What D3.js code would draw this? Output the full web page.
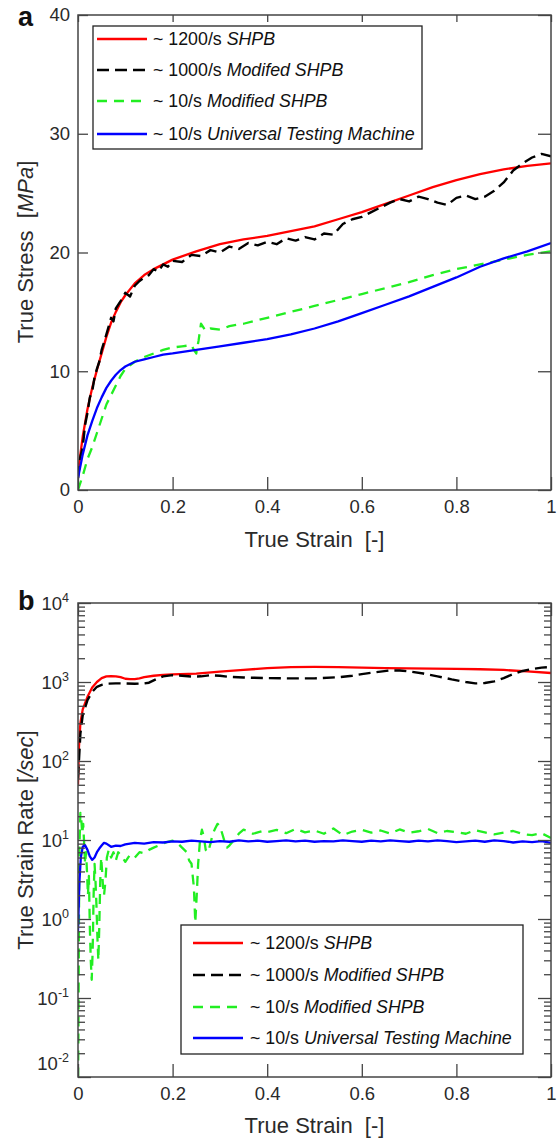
<!DOCTYPE html>
<html>
<head>
<meta charset="utf-8">
<script src="https://cdn.jsdelivr.net/npm/d3@7"></script>
<style>
  body { margin: 0; background: #fff; }
  svg { display: block; font-family: "Liberation Sans", Arial, Helvetica, sans-serif; }
</style>
</head>
<body>
<div id="chart"></div>
<script>
// ---------- panel a : true stress vs true strain ----------
const redStrainA = [0,0.01,0.02,0.03,0.04,0.05,0.06,0.07,0.08,0.09,0.1,0.12,0.14,0.16,0.18,0.2,0.25,0.3,0.35,0.4,0.45,0.5,0.55,0.6,0.65,0.7,0.75,0.8,0.85,0.9,0.95,1]
const redStressA = [1.5,4.5,6.8,8.6,10.1,11.5,12.9,14.1,15.0,15.8,16.4,17.4,18.1,18.6,19.0,19.4,20.1,20.7,21.1,21.4,21.8,22.2,22.8,23.4,24.1,24.8,25.5,26.1,26.6,27.0,27.3,27.5]

const blackStrainA = [0,0.005,0.01,0.015,0.02,0.025,0.03,0.035,0.04,0.045,
  0.05,0.06,0.07,0.075,0.08,0.09,0.1,0.11,0.12,0.13,
  0.14,0.15,0.16,0.17,0.18,0.19,0.2,0.22,0.24,0.26,
  0.28,0.3,0.32,0.34,0.36,0.38,0.4,0.42,0.44,0.46,
  0.48,0.5,0.52,0.54,0.56,0.58,0.6,0.62,0.64,0.66,
  0.68,0.7,0.72,0.74,0.76,0.78,0.8,0.82,0.84,0.86,
  0.88,0.9,0.92,0.94,0.96,0.98,1]
const blackStressA = [1.0,2.8,3.6,5.5,6.5,7.8,8.3,9.5,10.2,10.8,
  11.8,13.1,14.5,14.2,15.3,15.9,16.6,16.3,17.2,17.6,
  17.9,18.1,18.6,18.4,19.0,18.8,19.3,19.2,19.8,19.7,
  20.2,20.0,20.5,20.3,20.8,20.6,20.9,20.7,21.2,21.0,
  21.3,21.1,21.6,21.5,22.4,22.8,23.0,23.4,23.8,24.2,
  24.5,24.3,24.7,24.5,24.2,24.0,24.6,24.8,24.5,24.7,
  25.2,25.9,26.9,27.5,28.0,28.3,28.1]

const greenStrainA = [0,0.01,0.02,0.03,0.04,0.05,0.06,0.07,0.08,0.09,
  0.1,0.12,0.14,0.16,0.18,0.2,0.22,0.24,0.245,0.25,
  0.255,0.26,0.27,0.28,0.3,0.32,0.35,0.4,0.45,0.5,
  0.55,0.6,0.65,0.7,0.75,0.8,0.85,0.9,0.95,1]
const greenStressA = [0,1.2,2.6,3.6,4.8,6.0,7.2,8.0,8.8,9.6,
  10.2,10.8,11.2,11.5,11.8,12.0,12.1,12.2,11.8,11.5,
  12.6,14.0,13.4,13.6,13.5,13.8,14.0,14.5,15.0,15.5,
  16.0,16.5,17.0,17.5,18.1,18.6,19.0,19.4,19.8,20.1]

const blueStrainA = redStrainA
const blueStressA = [1.0,3.0,4.6,5.8,6.9,7.8,8.6,9.2,9.7,10.1,10.4,10.8,11.0,11.2,11.4,11.5,11.8,12.1,12.4,12.7,13.1,13.6,14.2,14.9,15.6,16.3,17.1,17.9,18.8,19.5,20.1,20.8]

// ---------- panel b : true strain rate vs true strain ----------
const redStrainB = [0,0.002,0.005,0.01,0.02,0.03,0.04,0.05,0.06,0.07,
  0.08,0.09,0.1,0.11,0.12,0.13,0.14,0.16,0.18,0.2,
  0.25,0.3,0.35,0.4,0.45,0.5,0.55,0.6,0.65,0.7,
  0.75,0.8,0.85,0.9,0.95,1]
const redRateB = [50,150,300,450,650,850,1000,1120,1180,1190,
  1180,1150,1100,1090,1090,1110,1150,1200,1230,1250,
  1280,1350,1420,1500,1540,1550,1540,1520,1500,1490,
  1480,1470,1450,1420,1360,1300]

const blackStrainB = [0,0.002,0.005,0.01,0.02,0.03,0.04,0.05,0.06,0.08,
  0.1,0.12,0.14,0.15,0.16,0.17,0.18,0.2,0.22,0.24,
  0.26,0.28,0.3,0.32,0.35,0.4,0.45,0.5,0.55,0.58,
  0.6,0.63,0.66,0.68,0.7,0.73,0.76,0.79,0.82,0.84,
  0.86,0.88,0.9,0.92,0.94,0.96,0.98,1]
const blackRateB = [60,100,220,380,590,750,870,920,950,960,
  960,950,960,980,1050,1120,1180,1220,1200,1170,
  1180,1220,1200,1160,1140,1120,1110,1110,1150,1200,
  1260,1330,1400,1400,1360,1280,1180,1080,1000,960,
  970,1020,1120,1260,1380,1460,1520,1550]

const greenStrainB = [0,0.001,0.002,0.003,0.005,0.007,0.009,0.011,0.013,0.015,
  0.017,0.019,0.021,0.023,0.025,0.027,0.029,0.031,0.033,0.035,
  0.037,0.039,0.041,0.043,0.045,0.047,0.049,0.051,0.053,0.055,
  0.058,0.061,0.065,0.07,0.075,0.08,0.085,0.09,0.1,0.11,
  0.12,0.13,0.14,0.15,0.16,0.17,0.18,0.19,0.2,0.21,
  0.22,0.23,0.235,0.24,0.245,0.248,0.251,0.254,0.258,0.262,
  0.266,0.27,0.275,0.28,0.285,0.29,0.295,0.3,0.305,0.31,
  0.315,0.32,0.33,0.34,0.35,0.36,0.37,0.38,0.39,0.4,
  0.42,0.44,0.46,0.48,0.5,0.52,0.54,0.56,0.58,0.6,
  0.62,0.64,0.66,0.68,0.7,0.72,0.74,0.76,0.78,0.8,
  0.82,0.84,0.86,0.88,0.9,0.92,0.94,0.96,0.98,1]
const greenRateB = [0.006,0.05,1,8,22,18,12,16,9,5,
  7,4,2,3.5,0.8,0.3,0.17,0.4,2,5,
  3,1.5,0.6,0.3,0.8,3,6,4,2.5,2,
  3,6,7.5,6,7,5.5,7,6.5,5.3,6.5,
  6,7,6.8,7.5,8,8.5,9,9.5,9.8,9.2,
  8,7,5.5,5,2.5,0.9,2,5,10,13.5,
  11,7.5,7,9,12,14,16,15,12,9.5,
  8,8.5,10,12,13.5,13,12,12.5,13,12.6,
  13.4,12.2,13.8,12.5,13.2,12.0,14.0,11.5,12.8,13.5,
  12.4,13.2,12.1,13.6,12.4,12.9,13.8,12.2,13.0,12.6,
  12.0,13.3,12.5,11.8,12.4,13.0,11.9,11.5,12.2,10.6]

const blueStrainB = [0,0.003,0.006,0.01,0.015,0.02,0.025,0.03,0.035,0.04,
  0.045,0.05,0.055,0.06,0.07,0.08,0.09,0.1,0.12,0.14,
  0.16,0.18,0.2,0.22,0.24,0.26,0.28,0.3,0.32,0.34,
  0.36,0.38,0.4,0.42,0.44,0.46,0.48,0.5,0.52,0.54,
  0.56,0.58,0.6,0.62,0.64,0.66,0.68,0.7,0.72,0.74,
  0.76,0.78,0.8,0.82,0.84,0.86,0.88,0.9,0.92,0.94,
  0.96,0.98,1]
const blueRateB = [0.7,3,6,8.2,8.6,7.5,6.2,5.6,6.0,7.0,
  7.8,8.5,9.2,9.0,8.2,8.5,8.4,8.8,9.2,9.0,
  9.4,9.3,9.6,9.5,9.8,9.6,9.4,9.7,9.5,9.9,
  9.6,9.8,9.5,9.7,9.9,9.6,9.8,9.5,9.7,9.6,
  9.9,9.7,9.5,9.8,9.6,9.9,9.7,9.5,9.8,9.6,
  9.9,9.7,9.4,9.6,9.8,9.5,9.9,9.7,9.3,9.6,
  9.4,9.7,9.2]

// ticks and legend text
const strainTicks = [0, 0.2, 0.4, 0.6, 0.8, 1]
const strainTickLabels = ["0", "0.2", "0.4", "0.6", "0.8", "1"]
const stressTicks = [0, 10, 20, 30, 40]
const rateExponents = [-2, -1, 0, 1, 2, 3, 4]
const legendRatesA = ["~ 1200/s ", "~ 1000/s ", "~ 10/s ", "~ 10/s "]
const legendMethodsA = ["SHPB", "Modifed SHPB", "Modified SHPB", "Universal Testing Machine"]
const legendMethodsB = ["SHPB", "Modified SHPB", "Modified SHPB", "Universal Testing Machine"]

// styles (order: red, black, green, blue)
const colors = ["#ff0000", "#000000", "#22ee22", "#0000ff"]
const dashes = [null, "12,6", "10,7", null]
const widths = [2.3, 2.4, 2.3, 2.3]

const frameColor = "#444"
const textColor = "#2a2a2a"

const svg = d3.select("#chart").append("svg")
  .attr("width", 558)
  .attr("height", 1138)

const W = 473
const defs = svg.append("defs")

function styleAxis(g, fontSize) {
  g.attr("font-family", null).attr("font-size", null)
  g.select(".domain").remove()
  g.selectAll(".tick line").attr("stroke", frameColor).attr("stroke-width", 1.3)
  g.selectAll("text").attr("fill", textColor).attr("font-size", fontSize)
}

function drawLines(g, x, y, series, clipId) {
  const line = d3.line().x(d => x(d[0])).y(d => y(d[1]))
  const lg = g.append("g").attr("clip-path", `url(#${clipId})`)
  series.forEach((s, i) => {
    lg.append("path")
      .datum(d3.zip(s[0], s[1]))
      .attr("fill", "none")
      .attr("stroke", colors[i])
      .attr("stroke-width", widths[i])
      .attr("stroke-dasharray", dashes[i])
      .attr("stroke-linejoin", "round")
      .attr("d", line)
  })
}

function drawLegend(g, box, rows, lineX, textX, methods) {
  g.append("rect")
    .attr("x", box.x).attr("y", box.y)
    .attr("width", box.w).attr("height", box.h)
    .attr("fill", "#fff").attr("stroke", "#222").attr("stroke-width", 1.3)
  rows.forEach((ry, i) => {
    g.append("line")
      .attr("x1", lineX[0]).attr("x2", lineX[1])
      .attr("y1", ry).attr("y2", ry)
      .attr("stroke", colors[i])
      .attr("stroke-width", widths[i])
      .attr("stroke-dasharray", dashes[i])
    const t = g.append("text")
      .attr("x", textX).attr("y", ry).attr("dy", "0.36em")
      .attr("font-size", 17.8).attr("fill", "#111")
    t.append("tspan").text(legendRatesA[i])
    t.append("tspan").attr("font-style", "italic").text(methods[i])
  })
}

// ================= panel a =================
const topA = 15, HA = 475
const xA = d3.scaleLinear().domain([0, 1]).range([0, W])
const yA = d3.scaleLinear().domain([0, 40]).range([HA, 0])
const gA = svg.append("g").attr("transform", `translate(78,${topA})`)

defs.append("clipPath").attr("id", "clipA")
  .append("rect").attr("width", W).attr("height", HA)

drawLines(gA, xA, yA, [
  [redStrainA, redStressA],
  [blackStrainA, blackStressA],
  [greenStrainA, greenStressA],
  [blueStrainA, blueStressA]
], "clipA")

gA.append("g").attr("transform", `translate(0,${HA})`)
  .call(d3.axisBottom(xA).tickValues(strainTicks).tickSize(-13).tickPadding(10)
    .tickFormat((d, i) => strainTickLabels[i]))
  .call(g => styleAxis(g, 18.5))
gA.append("g")
  .call(d3.axisTop(xA).tickValues(strainTicks).tickSize(-7).tickFormat(""))
  .call(g => styleAxis(g, 18.5))
gA.append("g")
  .call(d3.axisLeft(yA).tickValues(stressTicks).tickSize(-10).tickPadding(8))
  .call(g => styleAxis(g, 18.5))
gA.append("g").attr("transform", `translate(${W},0)`)
  .call(d3.axisRight(yA).tickValues(stressTicks).tickSize(-13).tickFormat(""))
  .call(g => styleAxis(g, 18.5))

gA.append("rect").attr("width", W).attr("height", HA)
  .attr("fill", "none").attr("stroke", frameColor).attr("stroke-width", 1.5)

drawLegend(svg, { x: 93, y: 26, w: 329, h: 123 }, [39, 70, 101, 134], [97, 147], 153, legendMethodsA)

svg.append("text").attr("x", 314.5).attr("y", 547).attr("text-anchor", "middle")
  .attr("font-size", 22).attr("fill", textColor).attr("xml:space", "preserve")
  .text("True Strain  [-]")
const ytA = svg.append("text").attr("transform", "translate(33,252) rotate(-90)")
  .attr("text-anchor", "middle").attr("font-size", 22).attr("fill", textColor)
  .attr("xml:space", "preserve")
ytA.append("tspan").text("True Stress  [")
ytA.append("tspan").attr("font-style", "italic").text("MPa")
ytA.append("tspan").text("]")

svg.append("text").attr("x", 18).attr("y", 26)
  .attr("font-size", 27).attr("font-weight", "bold").attr("fill", "#111").text("a")

// ================= panel b =================
const topB = 603, HB = 474
const xB = d3.scaleLinear().domain([0, 1]).range([0, W])
const yB = d3.scaleLog().domain([1e-2, 1e4]).range([HB, 0])
const gB = svg.append("g").attr("transform", `translate(78,${topB})`)

defs.append("clipPath").attr("id", "clipB")
  .append("rect").attr("width", W).attr("height", HB)

drawLines(gB, xB, yB, [
  [redStrainB, redRateB],
  [blackStrainB, blackRateB],
  [greenStrainB, greenRateB],
  [blueStrainB, blueRateB]
], "clipB")

const majors = rateExponents.map(e => Math.pow(10, e))
const minors = []
rateExponents.slice(0, -1).forEach(e => {
  for (let k = 2; k <= 9; k++) minors.push(k * Math.pow(10, e))
})

gB.append("g").attr("transform", `translate(0,${HB})`)
  .call(d3.axisBottom(xB).tickValues(strainTicks).tickSize(-13).tickPadding(10)
    .tickFormat((d, i) => strainTickLabels[i]))
  .call(g => styleAxis(g, 18.5))
gB.append("g")
  .call(d3.axisTop(xB).tickValues(strainTicks).tickSize(-13).tickFormat(""))
  .call(g => styleAxis(g, 18.5))
gB.append("g")
  .call(d3.axisLeft(yB).tickValues(majors).tickSize(-13).tickFormat(""))
  .call(g => styleAxis(g, 18.5))
gB.append("g")
  .call(d3.axisLeft(yB).tickValues(minors).tickSize(-7).tickFormat(""))
  .call(g => styleAxis(g, 18.5))
gB.append("g").attr("transform", `translate(${W},0)`)
  .call(d3.axisRight(yB).tickValues(majors).tickSize(-13).tickFormat(""))
  .call(g => styleAxis(g, 18.5))
gB.append("g").attr("transform", `translate(${W},0)`)
  .call(d3.axisRight(yB).tickValues(minors).tickSize(-7).tickFormat(""))
  .call(g => styleAxis(g, 18.5))

// power-of-ten labels
rateExponents.forEach(e => {
  const cy = Math.min(yB(Math.pow(10, e)), HB - 14)
  const t = gB.append("text")
    .attr("x", -9).attr("y", cy + 6.5)
    .attr("text-anchor", "end").attr("font-size", 18.5).attr("fill", textColor)
  t.append("tspan").text("10")
  t.append("tspan").attr("font-size", 12.5).attr("dy", -8).text(String(e))
})

gB.append("rect").attr("width", W).attr("height", HB)
  .attr("fill", "none").attr("stroke", frameColor).attr("stroke-width", 1.5)

drawLegend(svg, { x: 181, y: 925, w: 342, h: 129 }, [943, 975, 1007, 1038], [193, 243], 250, legendMethodsB)

svg.append("text").attr("x", 314.5).attr("y", 1133).attr("text-anchor", "middle")
  .attr("font-size", 22).attr("fill", textColor).attr("xml:space", "preserve")
  .text("True Strain  [-]")
const ytB = svg.append("text").attr("transform", "translate(33,840) rotate(-90)")
  .attr("text-anchor", "middle").attr("font-size", 22).attr("fill", textColor)
  .attr("xml:space", "preserve")
ytB.append("tspan").text("True Strain Rate [")
ytB.append("tspan").attr("font-style", "italic").text("/sec")
ytB.append("tspan").text("]")

svg.append("text").attr("x", 18).attr("y", 610)
  .attr("font-size", 27).attr("font-weight", "bold").attr("fill", "#111").text("b")
</script>
</body>
</html>
